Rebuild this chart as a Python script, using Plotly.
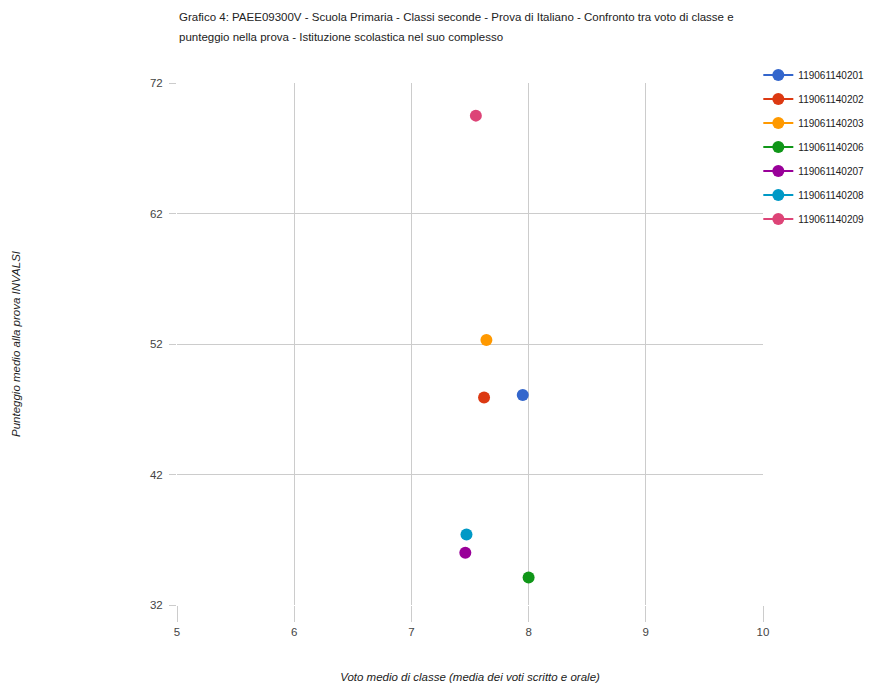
import plotly.graph_objects as go

classes = ["119061140201", "119061140202", "119061140203", "119061140206",
           "119061140207", "119061140208", "119061140209"]
voto = [7.95, 7.62, 7.64, 8.0, 7.46, 7.47, 7.55]
punteggio = [48.1, 47.9, 52.3, 34.1, 36.0, 37.4, 69.5]
colors = ["#3366cc", "#dc3912", "#ff9900", "#109618", "#990099", "#0099c6", "#dd4477"]

x_ticks = [5, 6, 7, 8, 9, 10]
y_ticks = [32, 42, 52, 62, 72]

title_lines = [
    "Grafico 4: PAEE09300V - Scuola Primaria - Classi seconde - Prova di Italiano - Confronto tra voto di classe e",
    "punteggio nella prova - Istituzione scolastica nel suo complesso",
]

FONT = "Liberation Sans, Arial, sans-serif"

fig = go.Figure()
for name, xv, yv, c in zip(classes, voto, punteggio, colors):
    fig.add_trace(go.Scatter(
        x=[xv], y=[yv], name=name, legendgroup=name, mode="lines+markers",
        marker=dict(color=c, size=12, line=dict(width=0)),
        line=dict(color=c, width=2),
    ))

PLOT_H = 522
title_ann = []
for i, line in enumerate(title_lines):
    title_ann.append(dict(
        text=line, xref="paper", yref="paper", x=0,
        y=1 + (83 - 17 - 20 * i) / PLOT_H, xanchor="left", yanchor="middle",
        align="left", showarrow=False,
        font=dict(family=FONT, size=11.5, color="#222"),
    ))

fig.update_layout(
    width=867, height=681,
    margin=dict(l=169, r=112, t=75, b=84, autoexpand=False),
    paper_bgcolor="white", plot_bgcolor="white",
    font=dict(family=FONT, size=11, color="#444"),
    annotations=title_ann,
    legend=dict(
        x=-0.008, xref="paper", xanchor="left", y=1.043, yanchor="top",
        font=dict(family=FONT, size=10, color="#222"),
        itemwidth=30, tracegroupgap=5,
        bgcolor="rgba(0,0,0,0)",
    ),
    xaxis=dict(
        range=[5, 10], tickvals=x_ticks, showgrid=True, gridcolor="#cccccc",
        zeroline=False, showline=False, ticks="outside", ticklen=16,
        tickcolor="#cccccc", tickfont=dict(family=FONT, size=11.5, color="#444"),
        title=dict(text="<i>Voto medio di classe (media dei voti scritto e orale)</i>",
                   font=dict(family=FONT, size=11.5, color="#222"), standoff=36),
    ),
    yaxis=dict(
        range=[32, 72], tickvals=y_ticks, showgrid=True, gridcolor="#cccccc",
        zeroline=False, showline=False, ticks="outside", ticklen=7,
        ticklabelstandoff=4,
        tickcolor="#cccccc", tickfont=dict(family=FONT, size=11.5, color="#444"),
        title=dict(text="<i>Punteggio medio alla prova INVALSI</i>",
                   font=dict(family=FONT, size=11.5, color="#222"),
                   standoff=126),
    ),
)
# legend placed just right of the plot area
fig.update_layout(legend=dict(x=0.992 + 0.0))
fig.update_layout(legend=dict(x=1.0 - 0.008 + 0.0))

fig.write_html("out.html")
